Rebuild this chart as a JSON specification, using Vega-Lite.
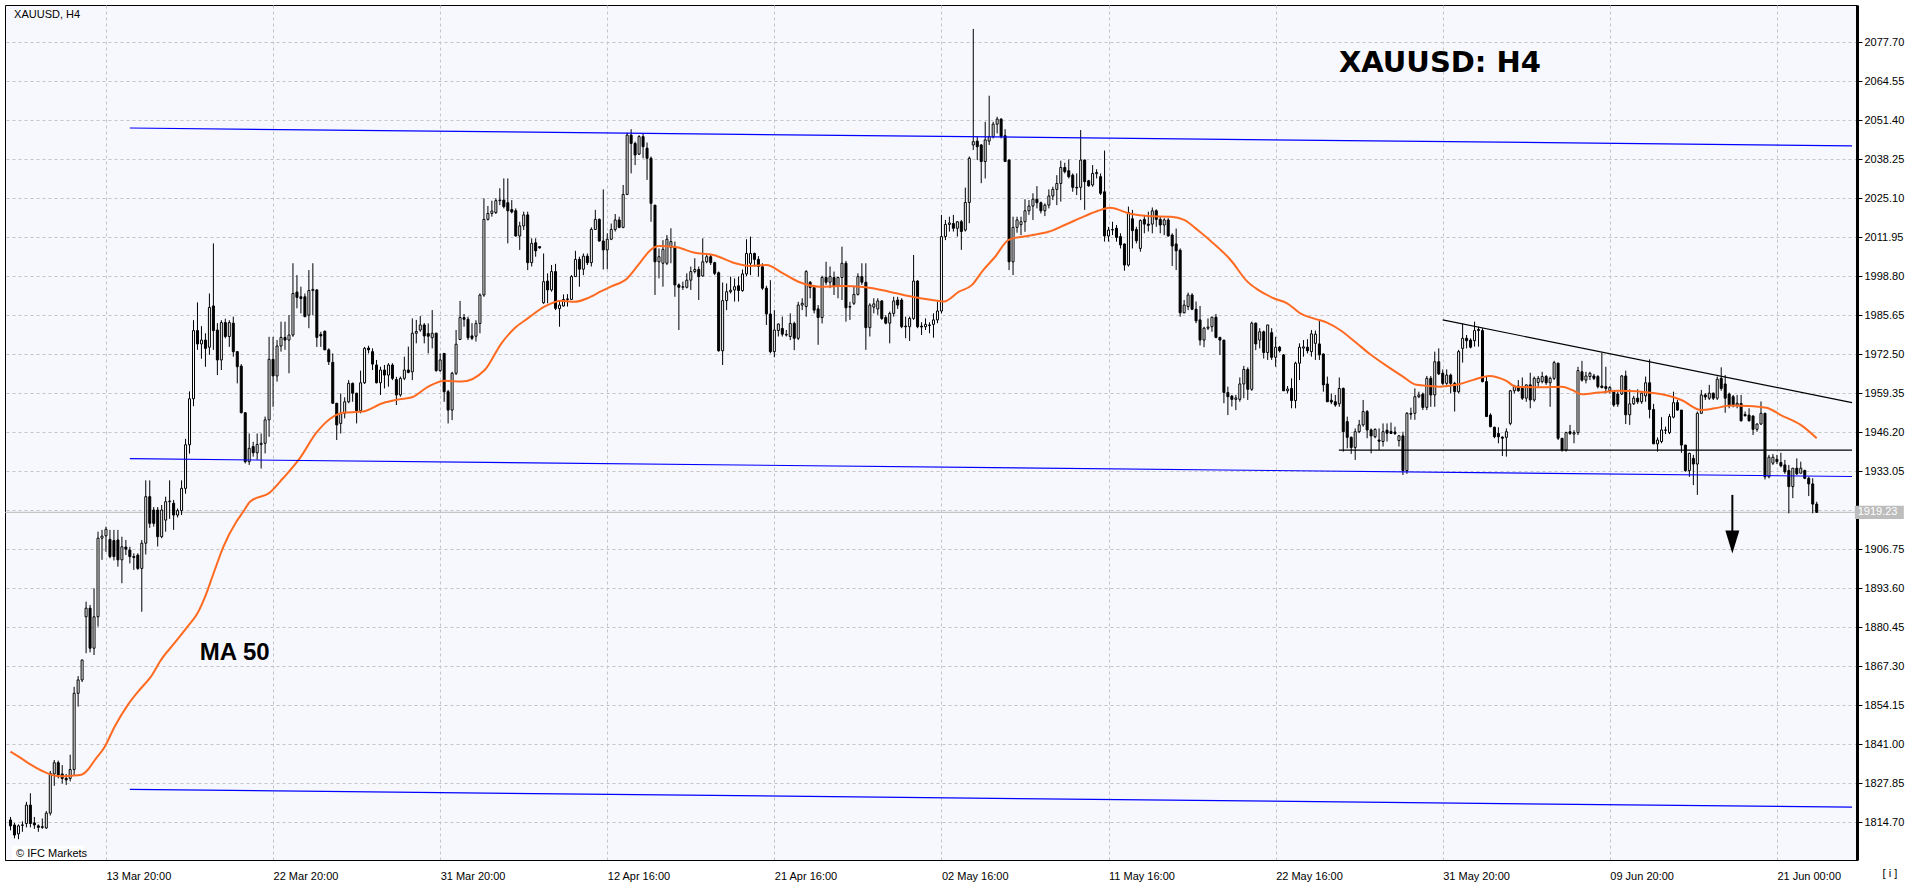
{
"$schema": "https://vega.github.io/schema/vega-lite/v6.json",
"width": 1852, "height": 855,
"autosize": {"type": "none"},
"padding": {"left": 5, "top": 5, "right": 55, "bottom": 25},
"background": "#FFFFFF",
"config": {"view": {"fill": "#F7F8FD", "stroke": "#000000", "strokeWidth": 1}},
"datasets": {
"bars": [
{"i":0,"o":1815.5,"h":1816.5,"l":1812,"c":1813.5},{"i":1,"o":1813.8,"h":1814.5,"l":1809.3,"c":1810.4},{"i":2,"o":1810.8,"h":1814,"l":1809,"c":1813.5},{"i":3,"o":1813.8,"h":1815,"l":1811.5,"c":1813.7},{"i":4,"o":1814.3,"h":1821.6,"l":1813,"c":1820.5},{"i":5,"o":1820.5,"h":1824.5,"l":1813,"c":1814.3},{"i":6,"o":1814.5,"h":1816.5,"l":1812.5,"c":1813.8},{"i":7,"o":1813.5,"h":1814,"l":1811.5,"c":1813},{"i":8,"o":1813.2,"h":1816,"l":1812.5,"c":1813},{"i":9,"o":1812.8,"h":1818.5,"l":1812.5,"c":1817.8},
{"i":10,"o":1817.8,"h":1832,"l":1817,"c":1831.2},{"i":11,"o":1831,"h":1835.7,"l":1827,"c":1834.8},{"i":12,"o":1834.8,"h":1835.5,"l":1829.5,"c":1830.7},{"i":13,"o":1831,"h":1834,"l":1827.8,"c":1829.5},{"i":14,"o":1829.5,"h":1831,"l":1827.3,"c":1829},{"i":15,"o":1829.5,"h":1837.5,"l":1828.5,"c":1832.5},{"i":16,"o":1832.5,"h":1860.4,"l":1830.5,"c":1858.2},{"i":17,"o":1858.2,"h":1864,"l":1853.7,"c":1862.7},{"i":18,"o":1862.7,"h":1869.6,"l":1862,"c":1869.4},{"i":19,"o":1884,"h":1889.1,"l":1871.7,"c":1886.9},
{"i":20,"o":1886.9,"h":1888,"l":1872,"c":1873.4},{"i":21,"o":1873.4,"h":1893.6,"l":1871.1,"c":1884},{"i":22,"o":1884,"h":1912.7,"l":1880.7,"c":1910.5},{"i":23,"o":1910.5,"h":1913.3,"l":1903.2,"c":1911.2},{"i":24,"o":1911.3,"h":1914.4,"l":1905.9,"c":1913.5},{"i":25,"o":1910.1,"h":1913.3,"l":1903.7,"c":1904.3},{"i":26,"o":1909.7,"h":1913.3,"l":1903,"c":1904.3},{"i":27,"o":1909.9,"h":1913.3,"l":1900.9,"c":1903.2},{"i":28,"o":1903.2,"h":1911,"l":1895.3,"c":1907.6},{"i":29,"o":1907.5,"h":1909.9,"l":1904.8,"c":1906.8},
{"i":30,"o":1906.5,"h":1907.6,"l":1902,"c":1904.3},{"i":31,"o":1904.3,"h":1905.4,"l":1899.8,"c":1904},{"i":32,"o":1904.8,"h":1905.4,"l":1899.8,"c":1900.3},{"i":33,"o":1900.3,"h":1909.9,"l":1885.7,"c":1908.8},{"i":34,"o":1908.8,"h":1930,"l":1905,"c":1924.5},{"i":35,"o":1924.5,"h":1930,"l":1914,"c":1915.5},{"i":36,"o":1920,"h":1921,"l":1914.4,"c":1915.5},{"i":37,"o":1920,"h":1921,"l":1907.7,"c":1911},{"i":38,"o":1911,"h":1921.7,"l":1910.5,"c":1920},{"i":39,"o":1916.6,"h":1924.5,"l":1912.7,"c":1922.8},
{"i":40,"o":1922.8,"h":1930,"l":1917,"c":1923},{"i":41,"o":1922.3,"h":1923.4,"l":1913.3,"c":1918.3},{"i":42,"o":1918.3,"h":1920.5,"l":1917.5,"c":1919.8},{"i":43,"o":1919.8,"h":1930,"l":1918.3,"c":1927.3},{"i":44,"o":1927.3,"h":1944,"l":1925.5,"c":1942},{"i":45,"o":1942,"h":1960,"l":1939,"c":1957.5},{"i":46,"o":1957.5,"h":1984,"l":1955,"c":1980.5},{"i":47,"o":1980.5,"h":1990,"l":1974,"c":1976},{"i":48,"o":1976,"h":1982,"l":1971,"c":1977.3},{"i":49,"o":1977.3,"h":1979.6,"l":1968.3,"c":1974.5},
{"i":50,"o":1974.9,"h":1993,"l":1972.3,"c":1988.3},{"i":51,"o":1988.8,"h":2009.9,"l":1974,"c":1980.5},{"i":52,"o":1980.7,"h":1983,"l":1965.5,"c":1970.6},{"i":53,"o":1970.6,"h":1984,"l":1967.2,"c":1983.2},{"i":54,"o":1983.2,"h":1984.5,"l":1977.9,"c":1978.5},{"i":55,"o":1978.5,"h":1984,"l":1975,"c":1983.2},{"i":56,"o":1983,"h":1985.2,"l":1971.7,"c":1973.4},{"i":57,"o":1973.4,"h":1973.5,"l":1962.7,"c":1968.3},{"i":58,"o":1968.5,"h":1969.2,"l":1952.6,"c":1952.8},{"i":59,"o":1952.8,"h":1952.9,"l":1935.7,"c":1936.3},
{"i":60,"o":1936.3,"h":1945.8,"l":1935.2,"c":1940.8},{"i":61,"o":1941.4,"h":1943,"l":1938,"c":1939.3},{"i":62,"o":1939.3,"h":1945.8,"l":1936.9,"c":1942.1},{"i":63,"o":1942.1,"h":1945.8,"l":1934,"c":1942.5},{"i":64,"o":1942.5,"h":1951.5,"l":1939.1,"c":1950.4},{"i":65,"o":1950.4,"h":1978.4,"l":1944.7,"c":1970.8},{"i":66,"o":1970.8,"h":1978.4,"l":1954.8,"c":1965.2},{"i":67,"o":1965.2,"h":1977.3,"l":1963.3,"c":1975.3},{"i":68,"o":1975.3,"h":1983.5,"l":1973.4,"c":1978.2},{"i":69,"o":1978.2,"h":1983.5,"l":1974,"c":1977.3},
{"i":70,"o":1977.3,"h":1985.7,"l":1966.1,"c":1979},{"i":71,"o":1979,"h":2003.2,"l":1978.4,"c":1993},{"i":72,"o":1993.5,"h":1999.2,"l":1988,"c":1991.7},{"i":73,"o":1991.9,"h":1995.3,"l":1986.3,"c":1991.3},{"i":74,"o":1991.9,"h":1993,"l":1985,"c":1985.2},{"i":75,"o":1985.7,"h":2000.9,"l":1981.3,"c":1994},{"i":76,"o":1994,"h":2003.2,"l":1985.7,"c":1994.4},{"i":77,"o":1994.2,"h":1994.5,"l":1975,"c":1978.2},{"i":78,"o":1979.2,"h":1980.1,"l":1975,"c":1978.7},{"i":79,"o":1980.3,"h":1980.5,"l":1974,"c":1974},
{"i":80,"o":1974,"h":1974.5,"l":1968.9,"c":1970},{"i":81,"o":1969.8,"h":1972.8,"l":1955.9,"c":1956},{"i":82,"o":1956,"h":1956.1,"l":1943.6,"c":1948.7},{"i":83,"o":1949.2,"h":1959.3,"l":1945.8,"c":1952.6},{"i":84,"o":1952.6,"h":1958,"l":1950.9,"c":1956.5},{"i":85,"o":1956.5,"h":1963.8,"l":1956,"c":1962.7},{"i":86,"o":1962.7,"h":1963,"l":1956.5,"c":1959.4},{"i":87,"o":1959.4,"h":1959.5,"l":1949.2,"c":1953.5},{"i":88,"o":1953.5,"h":1967,"l":1952.6,"c":1962.9},{"i":89,"o":1962.9,"h":1975,"l":1962.5,"c":1974.5},
{"i":90,"o":1974.6,"h":1975.4,"l":1972.8,"c":1974},{"i":91,"o":1973.4,"h":1974.5,"l":1967.2,"c":1969.2},{"i":92,"o":1968.9,"h":1970.6,"l":1962.7,"c":1962.9},{"i":93,"o":1962.9,"h":1968.3,"l":1958.8,"c":1967.2},{"i":94,"o":1967.2,"h":1968.9,"l":1961,"c":1965.5},{"i":95,"o":1965.5,"h":1969.5,"l":1961.6,"c":1968.9},{"i":96,"o":1968.9,"h":1969.5,"l":1963.8,"c":1964.4},{"i":97,"o":1964,"h":1964.9,"l":1955.4,"c":1958.8},{"i":98,"o":1958.8,"h":1965,"l":1958.2,"c":1964.4},{"i":99,"o":1964.4,"h":1971.7,"l":1963.8,"c":1967.2},
{"i":100,"o":1967.2,"h":1975.1,"l":1966.1,"c":1966.4},{"i":101,"o":1966.6,"h":1984.6,"l":1963.8,"c":1979.6},{"i":102,"o":1979.6,"h":1984.1,"l":1976.2,"c":1980.2},{"i":103,"o":1980.7,"h":1985.4,"l":1980.1,"c":1982.4},{"i":104,"o":1982.4,"h":1983,"l":1976.2,"c":1978.7},{"i":105,"o":1979.5,"h":1982.9,"l":1972.8,"c":1978.6},{"i":106,"o":1978.1,"h":1987.4,"l":1974.5,"c":1979.6},{"i":107,"o":1979.6,"h":1979.8,"l":1966.6,"c":1967},{"i":108,"o":1967,"h":1972.8,"l":1966.6,"c":1970.6},{"i":109,"o":1972.8,"h":1972.8,"l":1956.5,"c":1959.9},
{"i":110,"o":1959.9,"h":1960.5,"l":1949.2,"c":1953.7},{"i":111,"o":1953.7,"h":1966.6,"l":1950.3,"c":1966.1},{"i":112,"o":1966.1,"h":1980.7,"l":1965.5,"c":1975.9},{"i":113,"o":1977.5,"h":1990.5,"l":1977.3,"c":1984.9},{"i":114,"o":1984.9,"h":1986.1,"l":1981.8,"c":1984.3},{"i":115,"o":1984.3,"h":1985.2,"l":1977.3,"c":1978.1},{"i":116,"o":1978.7,"h":1983,"l":1977.3,"c":1977.9},{"i":117,"o":1978.6,"h":1984,"l":1976.8,"c":1982.9},{"i":118,"o":1982.9,"h":1993,"l":1979.6,"c":1992.5},{"i":119,"o":1992.5,"h":2025.1,"l":1991.9,"c":2018},
{"i":120,"o":2018,"h":2022.5,"l":2017.6,"c":2020},{"i":121,"o":2020,"h":2024.3,"l":2018.9,"c":2020.8},{"i":122,"o":2020.3,"h":2025.1,"l":2019.8,"c":2024.3},{"i":123,"o":2024.3,"h":2028.5,"l":2022.8,"c":2024.5},{"i":124,"o":2024.5,"h":2031.8,"l":2021.7,"c":2022.3},{"i":125,"o":2023.6,"h":2031.8,"l":2009.9,"c":2020.9},{"i":126,"o":2021.3,"h":2024.5,"l":2020,"c":2020.5},{"i":127,"o":2020.9,"h":2021.7,"l":2012.2,"c":2012.4},{"i":128,"o":2012.4,"h":2017.2,"l":2007.7,"c":2015.8},{"i":129,"o":2015.8,"h":2020.6,"l":2014.4,"c":2019.5},
{"i":130,"o":2019.5,"h":2020.6,"l":2000.9,"c":2003.4},{"i":131,"o":2003.4,"h":2011.6,"l":2002.1,"c":2009.9},{"i":132,"o":2010.1,"h":2011.6,"l":2005.4,"c":2007.4},{"i":133,"o":2008.8,"h":2009,"l":2008.1,"c":2008.4},{"i":134,"o":1989.9,"h":2006.5,"l":1989.5,"c":1997},{"i":135,"o":1997.2,"h":1999.8,"l":1989.7,"c":1994.2},{"i":136,"o":1994.2,"h":2002.6,"l":1993.6,"c":2000.4},{"i":137,"o":2000.4,"h":2003,"l":1987.4,"c":1988},{"i":138,"o":1987.9,"h":1990.8,"l":1981.8,"c":1989.1},{"i":139,"o":1988.8,"h":1992.7,"l":1988.6,"c":1991},
{"i":140,"o":1991,"h":1992.8,"l":1988.6,"c":1991.2},{"i":141,"o":1991,"h":1999.2,"l":1990.8,"c":1998.7},{"i":142,"o":1998.7,"h":2007.4,"l":1998.6,"c":2004.5},{"i":143,"o":2004.5,"h":2005.4,"l":1995.3,"c":2001.2},{"i":144,"o":2001.2,"h":2006.5,"l":1999.2,"c":2005.6},{"i":145,"o":2005.6,"h":2006.5,"l":2002.6,"c":2003.4},{"i":146,"o":2003.4,"h":2015.3,"l":2002.1,"c":2014.6},{"i":147,"o":2014.6,"h":2021.2,"l":2014.4,"c":2018},{"i":148,"o":2018,"h":2018.3,"l":2010.5,"c":2010.7},{"i":149,"o":2010.7,"h":2028.1,"l":2001.1,"c":2007.7},
{"i":150,"o":2007.7,"h":2013.3,"l":2001.2,"c":2011.3},{"i":151,"o":2011.3,"h":2016.6,"l":2011,"c":2014.6},{"i":152,"o":2014.6,"h":2019.8,"l":2013.9,"c":2017.8},{"i":153,"o":2017.8,"h":2018.9,"l":2015,"c":2015.3},{"i":154,"o":2015.3,"h":2029.6,"l":2015,"c":2026.4},{"i":155,"o":2026.4,"h":2047.2,"l":2026.2,"c":2046.4},{"i":156,"o":2046.4,"h":2048.4,"l":2033.5,"c":2043.6},{"i":157,"o":2043.6,"h":2044.2,"l":2036.3,"c":2039.7},{"i":158,"o":2040,"h":2046.4,"l":2039.7,"c":2045.9},{"i":159,"o":2045.9,"h":2047,"l":2038.6,"c":2042.5},
{"i":160,"o":2042,"h":2043.9,"l":2031.3,"c":2038.6},{"i":161,"o":2038.6,"h":2039.2,"l":2017.2,"c":2023.4},{"i":162,"o":2022.8,"h":2022.8,"l":1992.5,"c":2003.7},{"i":163,"o":2003.7,"h":2008.2,"l":1998.1,"c":2005.4},{"i":164,"o":2003.2,"h":2011,"l":1995.3,"c":2007.9},{"i":165,"o":2003.2,"h":2012.7,"l":2002.6,"c":2011.3},{"i":166,"o":2008.6,"h":2015,"l":2003.2,"c":2010.5},{"i":167,"o":2008.8,"h":2010.5,"l":1991.9,"c":1995.9},{"i":168,"o":1995.9,"h":1996.4,"l":1980.7,"c":1995.1},{"i":169,"o":1995.1,"h":1997,"l":1994.2,"c":1995.3},
{"i":170,"o":1995.1,"h":1999.8,"l":1994.7,"c":1997.5},{"i":171,"o":1997.5,"h":2002.1,"l":1994.2,"c":2000.4},{"i":172,"o":2000.4,"h":2004.9,"l":1999.8,"c":2001.1},{"i":173,"o":2001.1,"h":2002.1,"l":1990.8,"c":1998.7},{"i":174,"o":1998.9,"h":2011.6,"l":1998.7,"c":2003.7},{"i":175,"o":2003.7,"h":2006,"l":2003.2,"c":2005.4},{"i":176,"o":2005.4,"h":2006.3,"l":2002.6,"c":2003.4},{"i":177,"o":2003.4,"h":2003.7,"l":1999.2,"c":1999.8},{"i":178,"o":2000,"h":2000.4,"l":1973.4,"c":1973.7},{"i":179,"o":1973.7,"h":1996.7,"l":1968.9,"c":1990.6},
{"i":180,"o":1990.6,"h":1996.4,"l":1987.4,"c":1993.6},{"i":181,"o":1993.6,"h":1998.7,"l":1993,"c":1994.1},{"i":182,"o":1994.2,"h":1998.1,"l":1990.3,"c":1995.3},{"i":183,"o":1995.6,"h":1998.7,"l":1990.3,"c":1994},{"i":184,"o":1994,"h":2001.1,"l":1993.6,"c":1999.6},{"i":185,"o":1999.6,"h":2011.3,"l":1998.9,"c":2006.5},{"i":186,"o":2003.2,"h":2012.2,"l":1999.2,"c":2006.5},{"i":187,"o":2006.5,"h":2006.8,"l":2002.1,"c":2004.5},{"i":188,"o":2004.5,"h":2005.6,"l":1998.7,"c":2002.1},{"i":189,"o":2002,"h":2003.2,"l":1994.2,"c":1994.8},
{"i":190,"o":1994.8,"h":1995.6,"l":1982.4,"c":1986.1},{"i":191,"o":1986.1,"h":1997.5,"l":1972.8,"c":1973.4},{"i":192,"o":1973.4,"h":1987.4,"l":1971.5,"c":1980.7},{"i":193,"o":1980.5,"h":1982.9,"l":1978.5,"c":1982.7},{"i":194,"o":1981.2,"h":1985.2,"l":1978.5,"c":1979.3},{"i":195,"o":1979,"h":1980.7,"l":1978.5,"c":1979.2},{"i":196,"o":1978.5,"h":1986.3,"l":1977.3,"c":1982.9},{"i":197,"o":1982.9,"h":1983.5,"l":1973.9,"c":1977.9},{"i":198,"o":1977.9,"h":1990.2,"l":1977.3,"c":1989.1},{"i":199,"o":1989.1,"h":1991.4,"l":1987.4,"c":1989.7},
{"i":200,"o":1988.6,"h":2000.9,"l":1985.2,"c":2000.4},{"i":201,"o":1996.8,"h":1997.2,"l":1991.4,"c":1995},{"i":202,"o":1995,"h":1995.9,"l":1986.3,"c":1987.4},{"i":203,"o":1987.8,"h":1989.1,"l":1975.7,"c":1984.9},{"i":204,"o":1984.9,"h":1999,"l":1982.9,"c":1998.4},{"i":205,"o":1998.4,"h":2003.7,"l":1995.9,"c":1996.8},{"i":206,"o":1996.8,"h":2002.1,"l":1994.8,"c":1998.7},{"i":207,"o":1998.4,"h":2000.4,"l":1992.5,"c":1995.6},{"i":208,"o":1995.6,"h":1998.7,"l":1991.4,"c":1998.4},{"i":209,"o":1998.4,"h":2008.8,"l":1990.8,"c":2003.2},
{"i":210,"o":2003.2,"h":2004,"l":1983.5,"c":1988.2},{"i":211,"o":1988.4,"h":1990.2,"l":1984.1,"c":1988.6},{"i":212,"o":1989.7,"h":1995.3,"l":1989.1,"c":1992.7},{"i":213,"o":1992.7,"h":1999.8,"l":1992.3,"c":1998.7},{"i":214,"o":1998.7,"h":2003.2,"l":1995.9,"c":1996.8},{"i":215,"o":1996.8,"h":2003.2,"l":1974,"c":1981.5},{"i":216,"o":1981.5,"h":1989.7,"l":1978.5,"c":1989.1},{"i":217,"o":1988.4,"h":1991.4,"l":1986.3,"c":1989.5},{"i":218,"o":1987.8,"h":1991.4,"l":1985.8,"c":1990.5},{"i":219,"o":1990.5,"h":1990.8,"l":1984.1,"c":1984.6},
{"i":220,"o":1984.9,"h":1985.7,"l":1982.6,"c":1983},{"i":221,"o":1983,"h":1986.9,"l":1976.2,"c":1986.3},{"i":222,"o":1986.3,"h":1991.9,"l":1985.2,"c":1990.5},{"i":223,"o":1990.8,"h":1991.9,"l":1987.8,"c":1989.1},{"i":224,"o":1990.8,"h":1991.4,"l":1981.3,"c":1981.8},{"i":225,"o":1982,"h":1985.2,"l":1977.9,"c":1981.8},{"i":226,"o":1981.8,"h":1985.2,"l":1977,"c":1984.6},{"i":227,"o":1984.6,"h":2006,"l":1984.1,"c":1997.2},{"i":228,"o":1997.2,"h":1997.5,"l":1981.3,"c":1981.8},{"i":229,"o":1982,"h":1983.3,"l":1979,"c":1981.7},
{"i":230,"o":1981.8,"h":1984.6,"l":1980.7,"c":1982.6},{"i":231,"o":1982.2,"h":1983.3,"l":1979.6,"c":1982.4},{"i":232,"o":1982.6,"h":1986.3,"l":1978.1,"c":1984.1},{"i":233,"o":1984.1,"h":1990.2,"l":1983,"c":1987.1},{"i":234,"o":1987.1,"h":2019.5,"l":1986.3,"c":2012.2},{"i":235,"o":2012.2,"h":2017.8,"l":2011,"c":2016.3},{"i":236,"o":2016.3,"h":2018.9,"l":2013.9,"c":2016.8},{"i":237,"o":2016.6,"h":2019.5,"l":2013.9,"c":2015},{"i":238,"o":2015,"h":2017.4,"l":2012.2,"c":2017.2},{"i":239,"o":2017.2,"h":2017.8,"l":2007.7,"c":2013.9},
{"i":240,"o":2014.4,"h":2028.7,"l":2013.9,"c":2023.7},{"i":241,"o":2023.7,"h":2039.2,"l":2016.7,"c":2038.6},{"i":242,"o":2043.1,"h":2082.2,"l":2041.4,"c":2044.2},{"i":243,"o":2044.4,"h":2045.9,"l":2038,"c":2042.5},{"i":244,"o":2043.1,"h":2043.3,"l":2030.2,"c":2037.5},{"i":245,"o":2037.5,"h":2050.9,"l":2031.8,"c":2044.8},{"i":246,"o":2044.4,"h":2059.7,"l":2043.1,"c":2045.9},{"i":247,"o":2045.9,"h":2050.9,"l":2045.3,"c":2050.1},{"i":248,"o":2050.1,"h":2052.6,"l":2047,"c":2051.8},{"i":249,"o":2051.8,"h":2052.1,"l":2045.3,"c":2045.9},
{"i":250,"o":2046.2,"h":2048.4,"l":2037.4,"c":2037.5},{"i":251,"o":2038,"h":2038.2,"l":2000.9,"c":2003.7},{"i":252,"o":2003.7,"h":2018.9,"l":1999.2,"c":2015.3},{"i":253,"o":2015.3,"h":2018.9,"l":2013.5,"c":2017.8},{"i":254,"o":2016.2,"h":2018.9,"l":2012.7,"c":2017.2},{"i":255,"o":2017.2,"h":2024.8,"l":2013.8,"c":2020.9},{"i":256,"o":2020.9,"h":2024.5,"l":2019.5,"c":2022.5},{"i":257,"o":2022.5,"h":2026.8,"l":2017.8,"c":2024.8},{"i":258,"o":2024.8,"h":2029.2,"l":2021.7,"c":2023.6},{"i":259,"o":2023.6,"h":2024,"l":2020,"c":2020.9},
{"i":260,"o":2020.9,"h":2023.4,"l":2019.1,"c":2022.8},{"i":261,"o":2022.8,"h":2028.1,"l":2021.7,"c":2025.9},{"i":262,"o":2025.9,"h":2029,"l":2024.5,"c":2028.1},{"i":263,"o":2028.1,"h":2032.9,"l":2022.8,"c":2030.1},{"i":264,"o":2030.1,"h":2037.8,"l":2024,"c":2035.5},{"i":265,"o":2035.5,"h":2037.1,"l":2033.5,"c":2034.1},{"i":266,"o":2034.4,"h":2038.2,"l":2031.8,"c":2032.4},{"i":267,"o":2032.9,"h":2033.5,"l":2027.3,"c":2028.8},{"i":268,"o":2028.8,"h":2033.5,"l":2026.2,"c":2028.6},{"i":269,"o":2028.8,"h":2048.1,"l":2024.5,"c":2038},
{"i":270,"o":2038,"h":2038.2,"l":2021.2,"c":2030.7},{"i":271,"o":2031,"h":2031.3,"l":2029,"c":2029.3},{"i":272,"o":2029.6,"h":2036.3,"l":2029,"c":2033.5},{"i":273,"o":2033.4,"h":2034.9,"l":2031.8,"c":2033.8},{"i":274,"o":2032.4,"h":2033.5,"l":2026.2,"c":2026.8},{"i":275,"o":2027.3,"h":2041.2,"l":2010.5,"c":2012.4},{"i":276,"o":2012.4,"h":2015.5,"l":2010.5,"c":2014.4},{"i":277,"o":2014.4,"h":2017.2,"l":2012.7,"c":2014.6},{"i":278,"o":2015,"h":2016.1,"l":2010.5,"c":2011.9},{"i":279,"o":2012.2,"h":2013.3,"l":2008.2,"c":2009.4},
{"i":280,"o":2009.7,"h":2009.9,"l":2000.7,"c":2002.6},{"i":281,"o":2002.6,"h":2022.3,"l":2002.1,"c":2020.3},{"i":282,"o":2018.2,"h":2021.2,"l":2008.2,"c":2014.2},{"i":283,"o":2014.6,"h":2015.5,"l":2009.9,"c":2010.8},{"i":284,"o":2008.2,"h":2018,"l":2007.1,"c":2017.6},{"i":285,"o":2018,"h":2019.5,"l":2013.3,"c":2016.4},{"i":286,"o":2016.4,"h":2020.6,"l":2013.9,"c":2016},{"i":287,"o":2016.4,"h":2022,"l":2013.3,"c":2020.9},{"i":288,"o":2020.9,"h":2021.4,"l":2015.5,"c":2018},{"i":289,"o":2018,"h":2018.9,"l":2013.3,"c":2016.1},
{"i":290,"o":2016.1,"h":2018.4,"l":2012.7,"c":2017.8},{"i":291,"o":2017.8,"h":2018.4,"l":2012.2,"c":2012.4},{"i":292,"o":2012.7,"h":2013.3,"l":2002.3,"c":2009},{"i":293,"o":2009.7,"h":2014.9,"l":2000.9,"c":2007.4},{"i":294,"o":2007.6,"h":2008.2,"l":1985.2,"c":1986.5},{"i":295,"o":1986.5,"h":1990.8,"l":1986.3,"c":1989.1},{"i":296,"o":1988.6,"h":1993.3,"l":1987.4,"c":1992.5},{"i":297,"o":1992.5,"h":1993.1,"l":1987.4,"c":1987.7},{"i":298,"o":1987.7,"h":1990.3,"l":1983,"c":1983.8},{"i":299,"o":1984.1,"h":1988.8,"l":1975.5,"c":1977.3},
{"i":300,"o":1977.3,"h":1981.8,"l":1974.9,"c":1981.3},{"i":301,"o":1981.3,"h":1984.6,"l":1980.7,"c":1981.7},{"i":302,"o":1981.8,"h":1985.2,"l":1980.1,"c":1985},{"i":303,"o":1985,"h":1986.1,"l":1977.9,"c":1978.2},{"i":304,"o":1978.2,"h":1978.4,"l":1972.3,"c":1977.3},{"i":305,"o":1977.3,"h":1977.3,"l":1956,"c":1959.6},{"i":306,"o":1959.6,"h":1961.6,"l":1952,"c":1958.2},{"i":307,"o":1958.4,"h":1958.8,"l":1954.9,"c":1957.3},{"i":308,"o":1957.3,"h":1958.8,"l":1953.7,"c":1957.8},{"i":309,"o":1957.3,"h":1964.7,"l":1956.5,"c":1962.5},
{"i":310,"o":1962.5,"h":1968.6,"l":1957.7,"c":1967.4},{"i":311,"o":1967.4,"h":1968.1,"l":1957.1,"c":1960.7},{"i":312,"o":1960.7,"h":1983.5,"l":1960.2,"c":1983},{"i":313,"o":1983,"h":1983.2,"l":1973.9,"c":1976},{"i":314,"o":1977.3,"h":1981.3,"l":1974.5,"c":1980.1},{"i":315,"o":1980.1,"h":1980.5,"l":1971.1,"c":1973.1},{"i":316,"o":1973.1,"h":1982.4,"l":1970.6,"c":1982.4},{"i":317,"o":1979.8,"h":1981.3,"l":1970.6,"c":1971.5},{"i":318,"o":1971.5,"h":1978.4,"l":1968.3,"c":1974.9},{"i":319,"o":1974.9,"h":1975.3,"l":1973.1,"c":1973.7},
{"i":320,"o":1972.3,"h":1972.6,"l":1960.2,"c":1960.2},{"i":321,"o":1960.2,"h":1961.8,"l":1959.3,"c":1960.8},{"i":322,"o":1961,"h":1964.4,"l":1954.3,"c":1956.9},{"i":323,"o":1956.9,"h":1970,"l":1954.3,"c":1969.5},{"i":324,"o":1969.5,"h":1976.2,"l":1963.8,"c":1974.9},{"i":325,"o":1974.6,"h":1977.3,"l":1971.7,"c":1975},{"i":326,"o":1974.9,"h":1977.6,"l":1972.8,"c":1973.7},{"i":327,"o":1973.4,"h":1980.7,"l":1971.7,"c":1979.4},{"i":328,"o":1976.2,"h":1980.5,"l":1970.6,"c":1979.3},{"i":329,"o":1976,"h":1983.8,"l":1970.6,"c":1972.3},
{"i":330,"o":1972.6,"h":1972.8,"l":1959.9,"c":1962.2},{"i":331,"o":1962.5,"h":1965,"l":1956.5,"c":1956.5},{"i":332,"o":1957,"h":1959.3,"l":1955.7,"c":1956.4},{"i":333,"o":1956.5,"h":1958.8,"l":1954.8,"c":1955.4},{"i":334,"o":1955.8,"h":1964.7,"l":1954.8,"c":1961},{"i":335,"o":1961,"h":1961.3,"l":1939.7,"c":1946.4},{"i":336,"o":1949.8,"h":1951.5,"l":1940.8,"c":1944.5},{"i":337,"o":1944.5,"h":1944.8,"l":1938.9,"c":1941.1},{"i":338,"o":1941.1,"h":1947.5,"l":1936.9,"c":1946.4},{"i":339,"o":1946.4,"h":1950.4,"l":1945.9,"c":1948.7},
{"i":340,"o":1948.7,"h":1957.1,"l":1948.1,"c":1953.2},{"i":341,"o":1953.2,"h":1953.7,"l":1944.2,"c":1947},{"i":342,"o":1947,"h":1947.5,"l":1939.1,"c":1945},{"i":343,"o":1944.7,"h":1947.5,"l":1944.2,"c":1947.2},{"i":344,"o":1943.6,"h":1947.5,"l":1940.2,"c":1943.2},{"i":345,"o":1943.1,"h":1949.2,"l":1941.4,"c":1946.4},{"i":346,"o":1946.9,"h":1949.2,"l":1943.1,"c":1945.9},{"i":347,"o":1946.5,"h":1949.5,"l":1945.7,"c":1945.8},{"i":348,"o":1946.3,"h":1948.1,"l":1945.3,"c":1945.8},{"i":349,"o":1943.4,"h":1945.3,"l":1941.4,"c":1945},
{"i":350,"o":1945,"h":1946.4,"l":1931.8,"c":1933.3},{"i":351,"o":1933.3,"h":1953,"l":1932.2,"c":1952.6},{"i":352,"o":1952.6,"h":1954.5,"l":1950.5,"c":1952.3},{"i":353,"o":1952.6,"h":1961,"l":1950.4,"c":1958.2},{"i":354,"o":1958.2,"h":1959.9,"l":1957.7,"c":1958.8},{"i":355,"o":1959.1,"h":1959.6,"l":1953.7,"c":1954.6},{"i":356,"o":1954.6,"h":1965.2,"l":1953.7,"c":1964.4},{"i":357,"o":1964.4,"h":1965.2,"l":1954.8,"c":1958.8},{"i":358,"o":1958.8,"h":1973.4,"l":1954.8,"c":1970},{"i":359,"o":1970,"h":1974.5,"l":1965.5,"c":1965.9},
{"i":360,"o":1966.1,"h":1967.4,"l":1962.2,"c":1962.7},{"i":361,"o":1962.7,"h":1967.4,"l":1962.2,"c":1965.5},{"i":362,"o":1965.5,"h":1966,"l":1959.3,"c":1962.7},{"i":363,"o":1962.7,"h":1963.2,"l":1953.2,"c":1959.9},{"i":364,"o":1959.9,"h":1974,"l":1959.3,"c":1973.4},{"i":365,"o":1974.5,"h":1982.9,"l":1969.7,"c":1977.9},{"i":366,"o":1977.9,"h":1979,"l":1974.5,"c":1977.1},{"i":367,"o":1977.3,"h":1977.9,"l":1974.5,"c":1974.9},{"i":368,"o":1977.1,"h":1983.5,"l":1975.1,"c":1980.5},{"i":369,"o":1980.5,"h":1981.8,"l":1975.1,"c":1980.9},
{"i":370,"o":1980.5,"h":1981.3,"l":1963,"c":1963.3},{"i":371,"o":1963.3,"h":1965,"l":1951.5,"c":1951.5},{"i":372,"o":1952,"h":1952.6,"l":1947.9,"c":1948.1},{"i":373,"o":1947.9,"h":1948.1,"l":1944.2,"c":1944.7},{"i":374,"o":1945.8,"h":1947.9,"l":1942.5,"c":1944.7},{"i":375,"o":1944.6,"h":1944.8,"l":1938.2,"c":1944.2},{"i":376,"o":1944.5,"h":1947.5,"l":1938,"c":1946.4},{"i":377,"o":1949.2,"h":1960.5,"l":1948.6,"c":1960.2},{"i":378,"o":1960.2,"h":1962.2,"l":1959.3,"c":1961.8},{"i":379,"o":1961.8,"h":1963.8,"l":1959.9,"c":1960.2},
{"i":380,"o":1961,"h":1964.7,"l":1957.1,"c":1957.7},{"i":381,"o":1957.7,"h":1962.2,"l":1956.5,"c":1962.2},{"i":382,"o":1962.2,"h":1966.3,"l":1954.3,"c":1957.1},{"i":383,"o":1957.1,"h":1965,"l":1956.5,"c":1964.4},{"i":384,"o":1963,"h":1965.2,"l":1961.6,"c":1964.4},{"i":385,"o":1963.3,"h":1966.6,"l":1962.7,"c":1965},{"i":386,"o":1965,"h":1965.5,"l":1962.2,"c":1962.9},{"i":387,"o":1962.9,"h":1965,"l":1954.8,"c":1964.4},{"i":388,"o":1964.4,"h":1970.3,"l":1963.8,"c":1969.7},{"i":389,"o":1969.5,"h":1969.7,"l":1943.6,"c":1944.2},
{"i":390,"o":1944.2,"h":1944.2,"l":1939.7,"c":1940.2},{"i":391,"o":1940.2,"h":1946.4,"l":1939.7,"c":1946.1},{"i":392,"o":1946.4,"h":1948.7,"l":1945.3,"c":1945.8},{"i":393,"o":1945.6,"h":1946.9,"l":1942.5,"c":1946.1},{"i":394,"o":1946.1,"h":1968.3,"l":1945.3,"c":1967},{"i":395,"o":1966.6,"h":1970.3,"l":1963.3,"c":1963.8},{"i":396,"o":1963.8,"h":1966.6,"l":1962.7,"c":1965.2},{"i":397,"o":1965,"h":1966.6,"l":1963.8,"c":1966.1},{"i":398,"o":1965.2,"h":1965.9,"l":1963.8,"c":1964.4},{"i":399,"o":1965,"h":1965.5,"l":1961,"c":1961.6},
{"i":400,"o":1961.8,"h":1973,"l":1961,"c":1961.3},{"i":401,"o":1961.6,"h":1968.3,"l":1959.3,"c":1961},{"i":402,"o":1960.2,"h":1961.8,"l":1959.3,"c":1961.3},{"i":403,"o":1960.2,"h":1960.5,"l":1954.8,"c":1955.4},{"i":404,"o":1959.1,"h":1959.9,"l":1954.8,"c":1955.7},{"i":405,"o":1959.1,"h":1965.5,"l":1958.8,"c":1965.2},{"i":406,"o":1965.2,"h":1967,"l":1949,"c":1952.1},{"i":407,"o":1952.1,"h":1960.7,"l":1948.7,"c":1955.8},{"i":408,"o":1955.8,"h":1958.5,"l":1955.4,"c":1957.7},{"i":409,"o":1957.7,"h":1960.7,"l":1955.8,"c":1956.5},
{"i":410,"o":1956.5,"h":1959.6,"l":1955.8,"c":1959.4},{"i":411,"o":1958.5,"h":1965,"l":1956.5,"c":1962.9},{"i":412,"o":1962.9,"h":1970.8,"l":1950.9,"c":1953.9},{"i":413,"o":1953.9,"h":1955.8,"l":1942.3,"c":1942.3},{"i":414,"o":1942.3,"h":1944.5,"l":1939.7,"c":1943.6},{"i":415,"o":1943.1,"h":1951.3,"l":1942.5,"c":1947},{"i":416,"o":1947,"h":1948.1,"l":1945.6,"c":1946.9},{"i":417,"o":1946.1,"h":1952.4,"l":1945.6,"c":1951.5},{"i":418,"o":1951.3,"h":1959.9,"l":1950.9,"c":1956.2},{"i":419,"o":1956.2,"h":1957.1,"l":1953.5,"c":1953.7},
{"i":420,"o":1953.7,"h":1953.7,"l":1939.3,"c":1941.9},{"i":421,"o":1941.9,"h":1941.9,"l":1932.9,"c":1933.3},{"i":422,"o":1933.3,"h":1939.3,"l":1931.2,"c":1939.1},{"i":423,"o":1937.4,"h":1938.6,"l":1928.4,"c":1935.5},{"i":424,"o":1935.5,"h":1953.2,"l":1925.1,"c":1952.6},{"i":425,"o":1952.6,"h":1960.5,"l":1952.6,"c":1958.8},{"i":426,"o":1958.8,"h":1959.4,"l":1957.1,"c":1958.1},{"i":427,"o":1957.7,"h":1962.2,"l":1957.1,"c":1959.4},{"i":428,"o":1959.4,"h":1959.6,"l":1957.1,"c":1957.7},{"i":429,"o":1957.7,"h":1965,"l":1957.1,"c":1964.1},
{"i":430,"o":1964.4,"h":1968.1,"l":1960.2,"c":1961},{"i":431,"o":1962.5,"h":1965.5,"l":1952.8,"c":1957.7},{"i":432,"o":1959.1,"h":1959.6,"l":1954.3,"c":1955.1},{"i":433,"o":1958.2,"h":1958.8,"l":1954.6,"c":1955.4},{"i":434,"o":1955.4,"h":1958.8,"l":1954.3,"c":1956},{"i":435,"o":1955.9,"h":1958.8,"l":1949.8,"c":1950.1},{"i":436,"o":1952.2,"h":1953.2,"l":1951.5,"c":1951.8},{"i":437,"o":1952,"h":1954.3,"l":1949.8,"c":1950.1},{"i":438,"o":1951.7,"h":1951.9,"l":1945.3,"c":1947.2},{"i":439,"o":1947.2,"h":1949.2,"l":1946.4,"c":1949},
{"i":440,"o":1949,"h":1956.6,"l":1948.7,"c":1952.6},{"i":441,"o":1952.6,"h":1952.8,"l":1930.3,"c":1931.2},{"i":442,"o":1931.2,"h":1938.6,"l":1930.7,"c":1937.8},{"i":443,"o":1935.8,"h":1938.9,"l":1935.2,"c":1937.8},{"i":444,"o":1937.1,"h":1938.6,"l":1935.5,"c":1936.3},{"i":445,"o":1936,"h":1939.3,"l":1934.4,"c":1934.9},{"i":446,"o":1935.2,"h":1936.9,"l":1932.2,"c":1932.9},{"i":447,"o":1933.3,"h":1935.2,"l":1918.9,"c":1927.9},{"i":448,"o":1927.9,"h":1934.1,"l":1924,"c":1934.1},{"i":449,"o":1934.1,"h":1937.4,"l":1931.8,"c":1932.2},
{"i":450,"o":1932.4,"h":1936.3,"l":1932.4,"c":1934.1},{"i":451,"o":1933.3,"h":1933.6,"l":1930.4,"c":1930.7},{"i":452,"o":1930.7,"h":1931.3,"l":1924.7,"c":1928.8},{"i":453,"o":1928.8,"h":1930.7,"l":1918.9,"c":1922},{"i":454,"o":1922,"h":1922.8,"l":1919,"c":1919.23}
],
"ma": [
{"i":0,"v":1838.5},{"i":3,"v":1836},{"i":5.3,"v":1834},{"i":8,"v":1832},{"i":10.3,"v":1830.7},{"i":13,"v":1830.2},{"i":15.3,"v":1830.4},{"i":17.8,"v":1830.7},{"i":19.5,"v":1832.5},{"i":21.2,"v":1835.7},{"i":23.7,"v":1840.2},{"i":26.2,"v":1847},{"i":29.5,"v":1854.3},{"i":32.8,"v":1859.9},{"i":35.3,"v":1863.8},{"i":37.8,"v":1869.4},{"i":41.2,"v":1875.1},{"i":44.5,"v":1880.7},{"i":47,"v":1885.2},{"i":49.1,"v":1891.4},{"i":51,"v":1898.5},{"i":53.5,"v":1907.6},{"i":56.8,"v":1916.1},{"i":58.5,"v":1919.4},{"i":60.2,"v":1922.8},{"i":65.2,"v":1925.9},{"i":68.5,"v":1930.7},{"i":72.7,"v":1937.4},{"i":76.8,"v":1945.9},{"i":80.2,"v":1950.6},{"i":83.5,"v":1952.8},{"i":88.5,"v":1953.2},{"i":93.5,"v":1956},{"i":97.7,"v":1957.3},{"i":100.9,"v":1958},{"i":105,"v":1961.6},{"i":109.2,"v":1963.6},{"i":113.4,"v":1963.3},{"i":119.2,"v":1967.2},{"i":123.4,"v":1976.2},{"i":126.7,"v":1981.3},{"i":130,"v":1984.6},{"i":134.2,"v":1988.6},{"i":138.4,"v":1990.6},{"i":141.7,"v":1990.2},{"i":145,"v":1991.4},{"i":148.4,"v":1993.7},{"i":150.9,"v":1995.3},{"i":155,"v":1998.1},{"i":158.4,"v":2003.7},{"i":160.9,"v":2007.7},{"i":163,"v":2009},{"i":167.5,"v":2008.6},{"i":171.7,"v":2006.8},{"i":176.7,"v":2006},{"i":181.7,"v":2003.4},{"i":185.9,"v":2002.3},{"i":190,"v":2002.6},{"i":194.2,"v":1999.8},{"i":198.4,"v":1996.8},{"i":203.4,"v":1995.3},{"i":208.4,"v":1995.5},{"i":215,"v":1995.1},{"i":220.9,"v":1993.6},{"i":226.7,"v":1991.9},{"i":231.7,"v":1990.8},{"i":234.6,"v":1990.3},{"i":238.4,"v":1993.6},{"i":241.7,"v":1995.9},{"i":244.2,"v":2000.4},{"i":247.5,"v":2005.4},{"i":250.9,"v":2011.1},{"i":255.9,"v":2012.5},{"i":260.9,"v":2013.8},{"i":265,"v":2016.1},{"i":270,"v":2019.1},{"i":273.4,"v":2020.9},{"i":276.3,"v":2021.9},{"i":281.7,"v":2019.8},{"i":285.9,"v":2019.1},{"i":291.7,"v":2018.9},{"i":295,"v":2017.8},{"i":298.4,"v":2014.4},{"i":300.9,"v":2011.6},{"i":306.7,"v":2004.3},{"i":310.9,"v":1997},{"i":313.4,"v":1994.4},{"i":317.5,"v":1991.4},{"i":320.9,"v":1989.7},{"i":324.2,"v":1986.3},{"i":327.5,"v":1984.6},{"i":330.9,"v":1983.2},{"i":334.2,"v":1980.7},{"i":338.4,"v":1976.2},{"i":341.7,"v":1972.6},{"i":345.9,"v":1968.6},{"i":350,"v":1965},{"i":353.4,"v":1962.2},{"i":359.2,"v":1961.6},{"i":363.4,"v":1962.2},{"i":367.5,"v":1963.8},{"i":371.7,"v":1965.2},{"i":375.9,"v":1963.6},{"i":378.4,"v":1961.6},{"i":384.2,"v":1961.4},{"i":390,"v":1961.6},{"i":392.5,"v":1960.5},{"i":395,"v":1959},{"i":399.2,"v":1959.6},{"i":404.2,"v":1960.2},{"i":413.4,"v":1959.4},{"i":420,"v":1957.1},{"i":425,"v":1953.7},{"i":428.4,"v":1954.3},{"i":432.5,"v":1955.2},{"i":436.7,"v":1955.1},{"i":441.4,"v":1954.5},{"i":445,"v":1952},{"i":450,"v":1948.7},{"i":454,"v":1944.2}
],
"lines": [
{"a":30,"pa":2048.8,"b":462.875,"pb":2042.8,"k":"ch"},
{"a":30,"pa":1937.3,"b":462.875,"pb":1931.3,"k":"ch"},
{"a":30,"pa":1825.8,"b":462.875,"pb":1819.8,"k":"ch"},
{"a":333.9,"pa":1940.2,"b":462.875,"pb":1940.2,"k":"tr"},
{"a":360,"pa":1984.1,"b":462.875,"pb":1956.2,"k":"tr"}
],
"last": [{"p":1919.23}]
},
"layer": [
{"data": {"name": "last"}, "mark": {"type": "rule", "color": "#B8B8B8", "strokeWidth": 1},
 "encoding": {"y": {"field": "p", "type": "quantitative", "title": null}}},
{"data": {"name": "bars"}, "mark": {"type": "rule", "color": "#000000", "strokeWidth": 1},
 "encoding": {
  "x": {"field": "i", "type": "quantitative", "title": null,
   "scale": {"domain": [-0.125, 462.875], "nice": false, "zero": false},
   "axis": {"values": [24,66,108,150,192,234,276,318,360,402,444],
    "labelExpr": "['13 Mar 20:00','22 Mar 20:00','31 Mar 20:00','12 Apr 16:00','21 Apr 16:00','02 May 16:00','11 May 16:00','22 May 16:00','31 May 20:00','09 Jun 20:00','21 Jun 00:00'][round((datum.value-24)/42)]",
    "grid": true, "gridColor": "#C4C4C4", "gridDash": [3,3], "gridWidth": 1,
    "ticks": false, "domain": true, "domainColor": "#000000", "domainWidth": 1,
    "labelAlign": "left", "labelBaseline": "top", "labelPadding": 10,
    "labelFont": "Liberation Sans", "labelFontSize": 11, "labelColor": "#000000",
    "labelOverlap": false, "labelFlush": false}},
  "y": {"field": "l", "type": "quantitative", "title": null,
   "scale": {"domain": [1801.99, 2090.28], "nice": false, "zero": false},
   "axis": {"orient": "right",
    "values": [1814.7,1827.85,1841,1854.15,1867.3,1880.45,1893.6,1906.75,1919.9,1933.05,1946.2,1959.35,1972.5,1985.65,1998.8,2011.95,2025.1,2038.25,2051.4,2064.55,2077.7],
    "labelExpr": "abs(datum.value-1919.9)<0.01 ? '' : format(datum.value, '.2f')",
    "grid": true, "gridColor": "#C4C4C4", "gridDash": [3,3], "gridWidth": 1,
    "ticks": true, "tickColor": "#000000", "tickSize": 5, "tickWidth": 1,
    "domain": true, "domainColor": "#000000", "domainWidth": 3,
    "labelPadding": 2, "labelFont": "Liberation Sans", "labelFontSize": 11, "labelColor": "#000000",
    "labelOverlap": false, "labelFlush": false}},
  "y2": {"field": "h"}}},
{"data": {"name": "bars"}, "mark": {"type": "bar", "orient": "vertical", "width": 2, "stroke": "#000000", "strokeWidth": 1},
 "encoding": {
  "x": {"field": "i", "type": "quantitative", "title": null},
  "y": {"field": "o", "type": "quantitative", "title": null},
  "y2": {"field": "c"},
  "fill": {"condition": {"test": "datum.c >= datum.o", "value": "#FFFFFF"}, "value": "#000000"}}},
{"data": {"name": "ma"}, "mark": {"type": "line", "color": "#FF6A21", "strokeWidth": 2, "interpolate": "monotone"},
 "encoding": {
  "x": {"field": "i", "type": "quantitative", "title": null},
  "y": {"field": "v", "type": "quantitative", "title": null}}},
{"data": {"name": "lines"}, "mark": {"type": "rule", "strokeWidth": 1.2},
 "encoding": {
  "x": {"field": "a", "type": "quantitative", "title": null},
  "x2": {"field": "b"},
  "y": {"field": "pa", "type": "quantitative", "title": null},
  "y2": {"field": "pb"},
  "color": {"field": "k", "type": "nominal", "scale": {"domain": ["ch","tr"], "range": ["#0000FF","#000000"]}, "legend": null}}},
{"data": {"values": [{}]}, "mark": {"type": "rule", "color": "#000000", "strokeWidth": 2},
 "encoding": {"x": {"datum": 432.8, "type": "quantitative"}, "y": {"datum": 1925.1, "type": "quantitative"}, "y2": {"datum": 1911}}},
{"data": {"values": [{}]}, "mark": {"type": "point", "shape": "M-0.61,-1L0.61,-1L0,1Z", "size": 529, "filled": true, "color": "#000000", "opacity": 1},
 "encoding": {"x": {"datum": 432.8, "type": "quantitative"}, "y": {"datum": 1909.2, "type": "quantitative"}}},
{"data": {"values": [{}]}, "mark": {"type": "text", "text": "XAUUSD: H4", "font": "DejaVu Sans", "fontWeight": "bold", "fontSize": 29, "align": "left", "baseline": "alphabetic", "color": "#000000"},
 "encoding": {"x": {"datum": 333.9, "type": "quantitative"}, "y": {"datum": 2067.8, "type": "quantitative"}}},
{"data": {"values": [{}]}, "mark": {"type": "text", "text": "MA 50", "font": "Liberation Sans", "fontWeight": "bold", "fontSize": 24, "align": "left", "baseline": "alphabetic", "color": "#000000"},
 "encoding": {"x": {"datum": 47.6, "type": "quantitative"}, "y": {"datum": 1869.4, "type": "quantitative"}}},
{"data": {"values": [{}]}, "mark": {"type": "text", "text": "XAUUSD, H4", "font": "Liberation Sans", "fontSize": 11, "align": "left", "baseline": "middle", "color": "#000000"},
 "encoding": {"x": {"datum": 0.9, "type": "quantitative"}, "y": {"datum": 2087.0, "type": "quantitative"}}},
{"data": {"values": [{}]}, "mark": {"type": "rect", "color": "#FFFFFF"},
 "encoding": {"x": {"datum": 0.4, "type": "quantitative"}, "x2": {"datum": 18.6}, "y": {"datum": 1806.8, "type": "quantitative"}, "y2": {"datum": 1802.1}}},
{"data": {"values": [{}]}, "mark": {"type": "text", "text": "© IFC Markets", "font": "Liberation Sans", "fontSize": 11, "align": "left", "baseline": "middle", "color": "#000000"},
 "encoding": {"x": {"datum": 1.4, "type": "quantitative"}, "y": {"datum": 1804.0, "type": "quantitative"}}},
{"data": {"values": [{}]}, "mark": {"type": "text", "text": "[ i ]", "font": "Liberation Sans", "fontSize": 11, "align": "center", "baseline": "middle", "color": "#000000"},
 "encoding": {"x": {"datum": 472.4, "type": "quantitative"}, "y": {"datum": 1797.3, "type": "quantitative"}}},
{"data": {"values": [{}]}, "mark": {"type": "rect", "color": "#BDBDBD"},
 "encoding": {"x": {"datum": 463.6, "type": "quantitative"}, "x2": {"datum": 475.9}, "y": {"datum": 1921.45, "type": "quantitative"}, "y2": {"datum": 1917.0}}},
{"data": {"name": "last"}, "mark": {"type": "text", "font": "Liberation Sans", "fontSize": 11, "align": "left", "baseline": "middle", "color": "#FFFFFF"},
 "encoding": {"x": {"datum": 464.3, "type": "quantitative"}, "y": {"field": "p", "type": "quantitative", "title": null}, "text": {"field": "p", "type": "quantitative", "format": ".2f"}}}
]
}
